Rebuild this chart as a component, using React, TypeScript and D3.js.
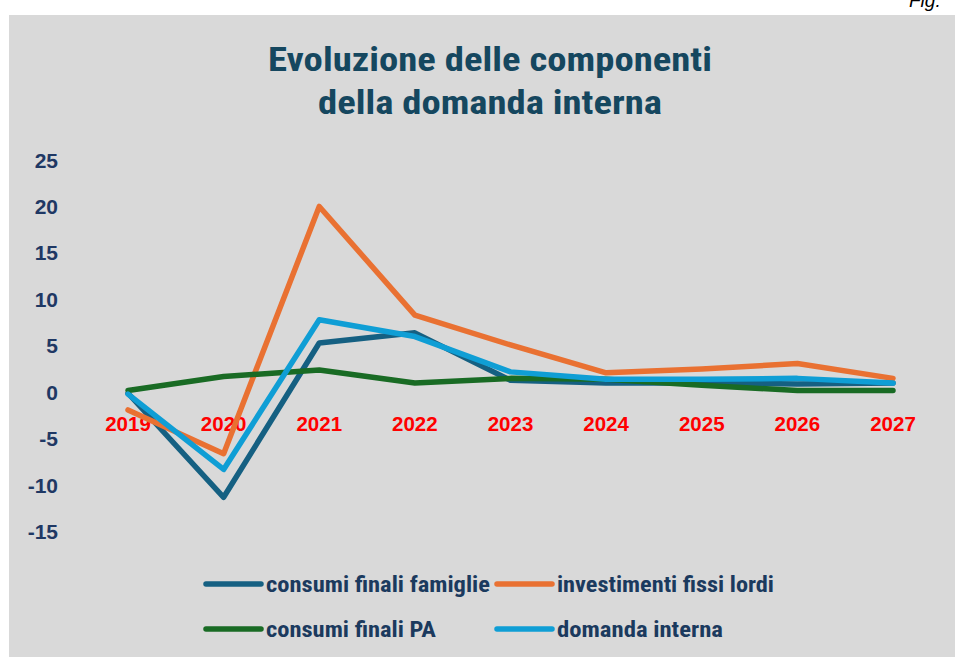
import React from 'react';
import * as d3 from 'd3';

const years = ['2019', '2020', '2021', '2022', '2023', '2024', '2025', '2026', '2027'];
const famiglie = [-0.1, -11.3, 5.3, 6.4, 1.3, 1.0, 1.0, 0.9, 1.0];
const investimenti = [-1.9, -6.6, 20.0, 8.3, 5.1, 2.1, 2.5, 3.1, 1.5];
const consumiPA = [0.2, 1.7, 2.4, 1.0, 1.5, 1.4, 0.75, 0.2, 0.2];
const domanda = [-0.2, -8.3, 7.8, 6.0, 2.2, 1.4, 1.4, 1.5, 1.0];
const yTicks = [-15, -10, -5, 0, 5, 10, 15, 20, 25];

const seriesNames = ['consumi finali famiglie', 'investimenti fissi lordi', 'consumi finali PA', 'domanda interna'];
const seriesValues = [famiglie, investimenti, consumiPA, domanda];
const seriesColors = ['#156082', '#E97132', '#196B24', '#0F9ED5'];
const legendTextWidths = [224, 217, 170, 166];

const titleLines = ['Evoluzione delle componenti', 'della domanda interna'];

export default function App() {
  const W = 955, H = 657;
  const x = d3.scaleBand<string>().domain(years).range([80.2, 940.8]);
  const cx = (yr: string) => (x(yr) as number) + x.bandwidth() / 2;
  const y = d3.scaleLinear().domain([-15, 25]).range([531.7, 160]);
  const line = d3.line<number>().x((_, i) => cx(years[i])).y((d) => y(d));

  const narrow = '"Liberation Sans Narrow", "Roboto Condensed", "DejaVu Sans Condensed", "Liberation Sans", sans-serif';
  const arial = '"Liberation Sans", Arial, sans-serif';

  const legendPos = [
    { lx: 206, ly: 584 },
    { lx: 497, ly: 584 },
    { lx: 206, ly: 629 },
    { lx: 497, ly: 629 },
  ];

  return (
    <svg width={W} height={H} style={{ position: 'absolute', left: 0, top: 0 }}>
      <rect x={0} y={0} width={W} height={H} fill="#ffffff" />
      <rect x={9} y={15} width={W - 9} height={H - 15} fill="#D9D9D9" />
      <text x={909} y={7} fontFamily='"Liberation Sans", sans-serif' fontStyle="italic" fontSize={19} fill="#000">Fig.</text>

      <text x={490} y={71} textAnchor="middle" fontFamily={narrow} fontWeight="bold" fontSize={34} fill="#15475F"
        textLength={444} lengthAdjust="spacingAndGlyphs">{titleLines[0]}</text>
      <text x={490} y={114} textAnchor="middle" fontFamily={narrow} fontWeight="bold" fontSize={34} fill="#15475F"
        textLength={344} lengthAdjust="spacingAndGlyphs">{titleLines[1]}</text>

      {yTicks.map((t) => (
        <text key={t} x={58} y={y(t)} dy="0.36em" textAnchor="end" fontFamily={arial} fontWeight="bold" fontSize={21} fill="#1F3864">{t}</text>
      ))}

      {years.map((yr) => (
        <text key={yr} x={cx(yr)} y={431} textAnchor="middle" fontFamily={arial} fontWeight="bold" fontSize={20.5} fill="#FF0000">{yr}</text>
      ))}

      {seriesValues.map((vals, i) => (
        <path key={seriesNames[i]} d={line(vals) || ''} fill="none" stroke={seriesColors[i]} strokeWidth={5.5}
          strokeLinejoin="round" strokeLinecap="round" />
      ))}

      {seriesNames.map((name, i) => (
        <g key={name}>
          <line x1={legendPos[i].lx} x2={legendPos[i].lx + 55} y1={legendPos[i].ly} y2={legendPos[i].ly}
            stroke={seriesColors[i]} strokeWidth={5.5} strokeLinecap="round" />
          <text x={legendPos[i].lx + 60} y={legendPos[i].ly} dy="0.36em" fontFamily={narrow} fontWeight="bold" fontSize={22}
            fill="#1B3A5E" textLength={legendTextWidths[i]} lengthAdjust="spacingAndGlyphs">{name}</text>
        </g>
      ))}
    </svg>
  );
}
